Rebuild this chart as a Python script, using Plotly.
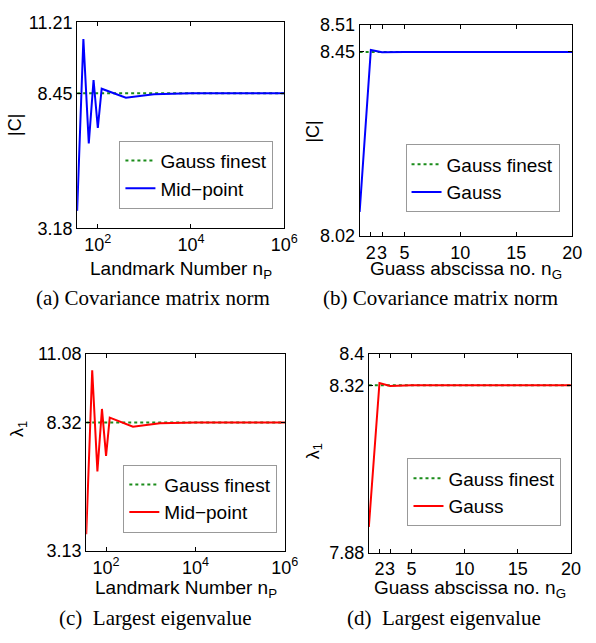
import math
import plotly.graph_objects as go

W, H = 596, 643

# ---------------- data ----------------
landmark_n = [36, 49, 64, 81, 100, 121, 400, 1600, 10000, 100000, 1000000]
norm_midpoint = [3.86, 10.56, 6.49, 8.96, 7.09, 8.62, 8.27, 8.41, 8.44, 8.446, 8.4465]
eig_midpoint = [3.80, 10.42, 6.34, 8.86, 6.97, 8.51, 8.14, 8.285, 8.314, 8.317, 8.318]
norm_finest = 8.4465
eig_finest = 8.318

gauss_n = [1, 2, 3, 4, 5, 6, 7, 8, 9, 10, 11, 12, 13, 14, 15, 16, 17, 18, 19, 20]
norm_gauss = [8.076, 8.451, 8.4456, 8.4465, 8.4465, 8.4465, 8.4465, 8.4465, 8.4465, 8.4465,
              8.4465, 8.4465, 8.4465, 8.4465, 8.4465, 8.4465, 8.4465, 8.4465, 8.4465, 8.4465]
eig_gauss = [7.947, 8.3239, 8.3163, 8.318, 8.318, 8.318, 8.318, 8.318, 8.318, 8.318,
             8.318, 8.318, 8.318, 8.318, 8.318, 8.318, 8.318, 8.318, 8.318, 8.318]

# tick values / labels
landmark_ticks = [100, 10000, 1000000]
landmark_ticktext = ["10<sup>2</sup>", "10<sup>4</sup>", "10<sup>6</sup>"]
gauss_ticks = [2, 3, 5, 10, 15, 20]
gauss_ticktext = ["2", "3", "5", "10", "15", "20"]
a_yticks = [3.18, norm_finest, 11.21]
a_yticktext = ["3.18", "8.45", "11.21"]
b_yticks = [8.02, norm_finest, 8.51]
b_yticktext = ["8.02", "8.45", "8.51"]
c_yticks = [3.13, eig_finest, 11.08]
c_yticktext = ["3.13", "8.32", "11.08"]
d_yticks = [7.88, eig_finest, 8.40]
d_yticktext = ["7.88", "8.32", "8.4"]

captions = ["(a) Covariance matrix norm", "(b) Covariance matrix norm",
            "(c)\u00a0 Largest eigenvalue", "(d)\u00a0 Largest eigenvalue"]

# ---------------- styling ----------------
SANS = "Liberation Sans, Arial, Helvetica, sans-serif"
SERIF = "Liberation Serif, Times New Roman, serif"
FS = 18
FS_LEG = 19
BLUE = "#0000ff"
RED = "#ff0000"
GREEN = "#1a8c1a"


def xd(x0, x1):
    return [x0 / W, x1 / W]


def yd(top, bottom):
    return [1 - bottom / H, 1 - top / H]


# panel boxes in pixels: (left, right, top, bottom)
boxes = {
    "a": (79, 291, 12.7, 225.3),
    "b": (368.3, 586, 15, 233.3),
    "c": (88.3, 291.7, 355, 558.3),
    "d": (377.7, 584.7, 355, 560),
}

fig = go.Figure()

# panel (a)
fig.add_trace(go.Scatter(x=[landmark_n[0], landmark_n[-1]], y=[norm_finest, norm_finest],
                         mode="lines", name="Gauss finest",
                         line=dict(color=GREEN, width=2, dash="3px,3px"),
                         xaxis="x", yaxis="y", legend="legend"))
fig.add_trace(go.Scatter(x=landmark_n, y=norm_midpoint, mode="lines", name="Mid\u2212point",
                         line=dict(color=BLUE, width=2), xaxis="x", yaxis="y", legend="legend"))
# panel (b)
fig.add_trace(go.Scatter(x=[gauss_n[0], gauss_n[-1]], y=[norm_finest, norm_finest],
                         mode="lines", name="Gauss finest",
                         line=dict(color=GREEN, width=2, dash="3px,3px"),
                         xaxis="x2", yaxis="y2", legend="legend2"))
fig.add_trace(go.Scatter(x=gauss_n, y=norm_gauss, mode="lines", name="Gauss",
                         line=dict(color=BLUE, width=2), xaxis="x2", yaxis="y2", legend="legend2"))
# panel (c)
fig.add_trace(go.Scatter(x=[landmark_n[0], landmark_n[-1]], y=[eig_finest, eig_finest],
                         mode="lines", name="Gauss finest",
                         line=dict(color=GREEN, width=2, dash="3px,3px"),
                         xaxis="x3", yaxis="y3", legend="legend3"))
fig.add_trace(go.Scatter(x=landmark_n, y=eig_midpoint, mode="lines", name="Mid\u2212point",
                         line=dict(color=RED, width=2), xaxis="x3", yaxis="y3", legend="legend3"))
# panel (d)
fig.add_trace(go.Scatter(x=[gauss_n[0], gauss_n[-1]], y=[eig_finest, eig_finest],
                         mode="lines", name="Gauss finest",
                         line=dict(color=GREEN, width=2, dash="3px,3px"),
                         xaxis="x4", yaxis="y4", legend="legend4"))
fig.add_trace(go.Scatter(x=gauss_n, y=eig_gauss, mode="lines", name="Gauss",
                         line=dict(color=RED, width=2), xaxis="x4", yaxis="y4", legend="legend4"))

axis_common = dict(showline=True, linecolor="black", linewidth=1, mirror="ticks",
                   ticks="inside", ticklen=4, tickcolor="black", tickwidth=1,
                   showgrid=False, zeroline=False, tickangle=0,
                   tickfont=dict(family=SANS, size=FS, color="black"))

lay = dict(
    width=W, height=H, margin=dict(l=0, r=0, t=0, b=0),
    paper_bgcolor="white", plot_bgcolor="white", showlegend=True,
    xaxis=dict(domain=xd(*boxes["a"][:2]), anchor="y", type="log",
               range=[math.log10(landmark_n[0]), math.log10(landmark_n[-1])],
               tickvals=landmark_ticks, ticktext=landmark_ticktext, **axis_common),
    yaxis=dict(domain=yd(*boxes["a"][2:]), anchor="x", range=[a_yticks[0], a_yticks[-1]],
               tickvals=a_yticks, ticktext=a_yticktext, **axis_common),
    xaxis2=dict(domain=xd(*boxes["b"][:2]), anchor="y2", range=[gauss_n[0], gauss_n[-1]],
                tickvals=gauss_ticks, ticktext=gauss_ticktext, **axis_common),
    yaxis2=dict(domain=yd(*boxes["b"][2:]), anchor="x2", range=[b_yticks[0], b_yticks[-1]],
                tickvals=b_yticks, ticktext=b_yticktext, **axis_common),
    xaxis3=dict(domain=xd(*boxes["c"][:2]), anchor="y3", type="log",
                range=[math.log10(landmark_n[0]), math.log10(landmark_n[-1])],
                tickvals=landmark_ticks, ticktext=landmark_ticktext, **axis_common),
    yaxis3=dict(domain=yd(*boxes["c"][2:]), anchor="x3", range=[c_yticks[0], c_yticks[-1]],
                tickvals=c_yticks, ticktext=c_yticktext, **axis_common),
    xaxis4=dict(domain=xd(*boxes["d"][:2]), anchor="y4", range=[gauss_n[0], gauss_n[-1]],
                tickvals=gauss_ticks, ticktext=gauss_ticktext, **axis_common),
    yaxis4=dict(domain=yd(*boxes["d"][2:]), anchor="x4", range=[d_yticks[0], d_yticks[-1]],
                tickvals=d_yticks, ticktext=d_yticktext, **axis_common),
)

legend_pos = {"legend": (280, 205), "legend2": (573, 209),
              "legend3": (284, 539.3), "legend4": (575, 533)}
for name, (rx, by) in legend_pos.items():
    lay[name] = dict(x=rx / W, y=1 - by / H, xanchor="right", yanchor="bottom",
                     xref="paper", yref="paper",
                     bgcolor="white", bordercolor="#999999", borderwidth=1,
                     font=dict(family=SANS, size=FS_LEG, color="black"),
                     tracegroupgap=0, itemwidth=30)

fig.update_layout(**lay)

annotations = []


def ann(text, x, y, size=FS, family=SANS, angle=0):
    annotations.append(dict(text=text, x=x / W, y=1 - y / H, xref="paper", yref="paper",
                            showarrow=False, xanchor="center", yanchor="middle",
                            textangle=angle, font=dict(family=family, size=size, color="black")))


# axis titles
ann("Landmark Number n<sub>P</sub>", 185, 268, size=19)
ann("Guass abscissa no. n<sub>G</sub>", 477, 268, size=19)
ann("Landmark Number n<sub>P</sub>", 190, 598, size=19)
ann("Guass abscissa no. n<sub>G</sub>", 481, 598, size=19)
ann("|C|", 16, 119, angle=-90)
ann("|C|", 321, 125, angle=-90)
ann("\u03bb<sub>1</sub>", 19, 433, angle=-90)
ann("\u03bb<sub>1</sub>", 322, 455, angle=-90)
# captions
ann(captions[0], 157, 297, size=21, family=SERIF)
ann(captions[1], 451, 297, size=21, family=SERIF)
ann(captions[2], 159, 628, size=21, family=SERIF)
ann(captions[3], 455, 628, size=21, family=SERIF)

fig.update_layout(annotations=annotations)

fig.write_html("out.html")
